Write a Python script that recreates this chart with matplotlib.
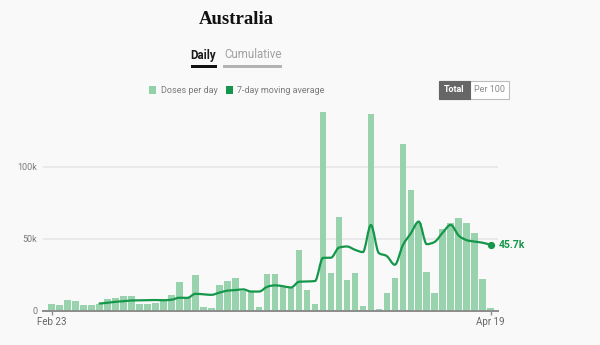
import numpy as np
import matplotlib
matplotlib.use("Agg")
import matplotlib.pyplot as plt
from matplotlib.path import Path
from matplotlib.patches import PathPatch, Rectangle

# Daily doses (thousands), Feb 23 .. Apr 19
doses_k = [4.4, 3.9, 7.4, 6.7, 3.9, 4.2, 4.5, 7.9, 8.6, 10.3,
           10.0, 4.9, 4.9, 5.3, 7.4, 10.6, 20.1, 9.3, 24.5, 2.8,
           2.1, 18.0, 20.6, 22.5, 13.4, 13.4, 2.8, 25.2, 25.5, 16.2,
           16.0, 41.9, 14.7, 5.0, 137.7, 26.2, 65.3, 21.2, 26.0, 3.3,
           136.8, 1.0, 12.0, 23.0, 116.0, 83.5, 61.0, 27.1, 12.3, 56.6,
           60.6, 64.1, 61.0, 54.0, 22.0, 1.6]

# 7-day moving average (thousands), from the 7th day onwards
avg_start = 6
avg_k = [5.0, 5.5, 6.2, 6.6, 7.1, 7.2, 7.3, 7.4, 7.3, 7.6,
         9.0, 8.9, 11.7, 11.4, 11.0, 12.5, 13.9, 14.3, 14.8, 13.3,
         13.3, 16.6, 17.6, 17.0, 16.1, 20.1, 20.3, 20.6, 36.7, 36.8,
         43.8, 44.6, 42.3, 40.7, 59.5, 40.0, 37.9, 31.9, 45.4, 53.7,
         61.9, 46.2, 47.8, 54.2, 59.6, 52.2, 49.0, 48.0, 47.2, 45.7]

x_ticks = [0, 55]
x_tick_labels = ["Feb 23", "Apr 19"]
y_ticks = [0, 50, 100]
y_tick_labels = ["0", "50k", "100k"]
last_label = "45.7k"

BG = "#f9f9f9"
BAR = "#93d1a9"
LINE = "#14974a"
GREY_TXT = "#7a7a7a"
FONT = ["Roboto", "DejaVu Sans"]

plt.rcParams["font.family"] = FONT

W, H = 600, 345
fig = plt.figure(figsize=(W / 100, H / 100), dpi=100, facecolor=BG)


def fx(px):
    return px / W


def fy(py):
    return 1 - py / H


ax = fig.add_axes([fx(43), fy(310.7), fx(498) - fx(43), fy(109.1) - fy(310.7)])
ax.set_facecolor(BG)
ax.set_xlim(-1.09, 55.93)
ax.set_ylim(0, 140)

for s in ["top", "right", "left"]:
    ax.spines[s].set_visible(False)
ax.spines["bottom"].set_color("#8c8c8c")
ax.spines["bottom"].set_linewidth(1.4)

for g in y_ticks[1:]:
    ax.axhline(g, color="#e6e6e6", lw=1.2, zorder=0)

idx = np.arange(len(doses_k))
ax.bar(idx, doses_k, width=0.82, color=BAR, zorder=2, alpha=0.95)


def monotone_path(xs, ys):
    xs = np.asarray(xs, float)
    ys = np.asarray(ys, float)
    n = len(xs)
    h = np.diff(xs)
    s = np.diff(ys) / h
    t = np.zeros(n)
    for i in range(1, n - 1):
        h0, h1 = h[i - 1], h[i]
        s0, s1 = s[i - 1], s[i]
        p = (s0 * h1 + s1 * h0) / (h0 + h1)
        t[i] = (np.sign(s0) + np.sign(s1)) * min(abs(s0), abs(s1), 0.5 * abs(p))
    t[0] = (3 * s[0] - t[1]) / 2
    t[-1] = (3 * s[-1] - t[-2]) / 2
    verts = [(xs[0], ys[0])]
    codes = [Path.MOVETO]
    for i in range(n - 1):
        dx = (xs[i + 1] - xs[i]) / 3
        verts += [(xs[i] + dx, ys[i] + dx * t[i]),
                  (xs[i + 1] - dx, ys[i + 1] - dx * t[i + 1]),
                  (xs[i + 1], ys[i + 1])]
        codes += [Path.CURVE4] * 3
    return Path(verts, codes)


avg_x = np.arange(avg_start, avg_start + len(avg_k))
ax.add_patch(PathPatch(monotone_path(avg_x, avg_k), fill=False,
                       edgecolor=LINE, lw=1.6, zorder=4, capstyle="round",
                       joinstyle="round"))
ax.plot([avg_x[-1]], [avg_k[-1]], "o", color=LINE, ms=4.2, zorder=5)
ax.annotate(last_label, (avg_x[-1], avg_k[-1]), xytext=(6, 0),
            textcoords="offset points", va="center", ha="left",
            color=LINE, fontsize=7.5, fontweight="bold")

ax.set_yticks(y_ticks)
ax.set_yticklabels(y_tick_labels)
ax.tick_params(axis="y", length=0, pad=4, labelsize=6.5, labelcolor=GREY_TXT)
ax.set_xticks(x_ticks)
ax.set_xticklabels(x_tick_labels)
ax.tick_params(axis="x", length=3, width=1, color="#8c8c8c", pad=1.5,
               labelsize=7, labelcolor="#666666")

# Title and view tabs
fig.text(fx(236), fy(20), "Australia", ha="center", va="center",
         fontsize=13.5, color="#111111", family="Liberation Serif",
         fontweight="bold")
fig.text(fx(203.5), fy(55), "Daily", ha="center", va="center",
         fontsize=8.3, color="#1a1a1a", fontweight="bold")
fig.text(fx(252.7), fy(55), "Cumulative", ha="center", va="center",
         fontsize=8.3, color="#a0a0a0")
fig.add_artist(Rectangle((fx(190.7), fy(67.7)), fx(26), fy(65.2) - fy(67.7),
                         transform=fig.transFigure, color="#111111", lw=0))
fig.add_artist(Rectangle((fx(223.3), fy(67.7)), fx(58.7), fy(65.2) - fy(67.7),
                         transform=fig.transFigure, color="#b3b3b3", lw=0))

# Legend
fig.add_artist(Rectangle((fx(149), fy(94.3)), fx(7.3), fy(86) - fy(94.3),
                         transform=fig.transFigure, color=BAR, lw=0))
fig.text(fx(161), fy(90.3), "Doses per day", ha="left", va="center",
         fontsize=6.5, color=GREY_TXT)
fig.add_artist(Rectangle((fx(225.7), fy(94.3)), fx(7.3), fy(86) - fy(94.3),
                         transform=fig.transFigure, color=LINE, lw=0))
fig.text(fx(237), fy(90.3), "7-day moving average", ha="left", va="center",
         fontsize=6.5, color=GREY_TXT)

# Total / Per 100 toggle
fig.add_artist(Rectangle((fx(438.7), fy(98.7)), fx(509.3 - 438.7), fy(81) - fy(98.7),
                         transform=fig.transFigure, facecolor="white",
                         edgecolor="#bdbdbd", lw=0.8))
fig.add_artist(Rectangle((fx(438.7), fy(98.7)), fx(470 - 438.7), fy(81) - fy(98.7),
                         transform=fig.transFigure, facecolor="#666666",
                         edgecolor="#666666", lw=0.8))
fig.text(fx(454.3), fy(89.8), "Total", ha="center", va="center",
         fontsize=6.5, color="white", fontweight="bold")
fig.text(fx(489.7), fy(89.8), "Per 100", ha="center", va="center",
         fontsize=6.5, color="#8a8a8a")

fig.savefig("out.png", dpi=100, facecolor=BG)
